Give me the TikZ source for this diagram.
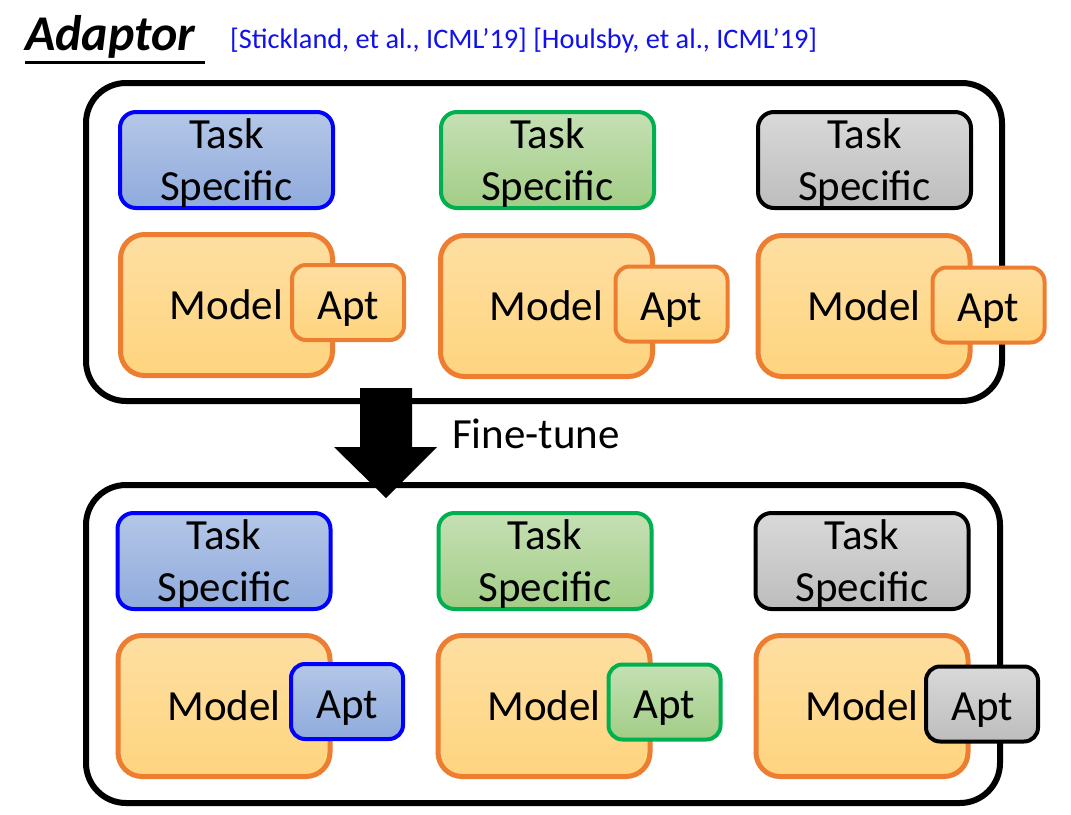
\documentclass[tikz,border=0pt]{standalone}
\usepackage{fontspec}
\setmainfont{Carlito}
\usetikzlibrary{positioning,calc}
\tikzset{font=\fontsize{43}{52}\selectfont}

\definecolor{citeblue}{HTML}{1010F0}
\definecolor{bluetop}{HTML}{B4C7E7}
\definecolor{bluebot}{HTML}{8FAADC}
\definecolor{blueline}{HTML}{0000FF}
\definecolor{greentop}{HTML}{C5E0B4}
\definecolor{greenbot}{HTML}{A2CD86}
\definecolor{greenline}{HTML}{00B050}
\definecolor{graytop}{HTML}{D9D9D9}
\definecolor{graybot}{HTML}{BDBDBD}
\definecolor{modeltop}{HTML}{FEDFA2}
\definecolor{modelbot}{HTML}{FED47E}
\definecolor{modelline}{HTML}{ED7D31}

\begin{document}
\begin{tikzpicture}[x=1pt,y=-1pt]
	\useasboundingbox (0,0) rectangle (1071,814);
	\tikzstyle{every node}=[align=center, inner sep=0pt]
	\tikzstyle{frame}=[draw=black, line width=6pt, rounded corners=40pt, minimum height=318pt]
	\tikzstyle{task}=[line width=4pt, rounded corners=16pt, minimum width=213pt, minimum height=96pt, text height=80pt, text depth=0pt]
	\tikzstyle{model}=[draw=modelline, line width=5pt, rounded corners=24pt, top color=modeltop, bottom color=modelbot, minimum width=212pt, minimum height=141pt]
	\tikzstyle{apt}=[line width=4pt, rounded corners=14pt, minimum width=112pt, minimum height=75pt, text height=33pt, text depth=0pt]
	\tikzstyle{blue box}=[draw=blueline, top color=bluetop, bottom color=bluebot]
	\tikzstyle{green box}=[draw=greenline, top color=greentop, bottom color=greenbot]
	\tikzstyle{gray box}=[draw=black, top color=graytop, bottom color=graybot]
	\tikzstyle{orange box}=[draw=modelline, top color=modeltop, bottom color=modelbot]

	% heading
	\node[anchor=base west, font=\fontsize{50}{60}\selectfont\bfseries\itshape] (title) at (25,50) {Adaptor};
	\draw[line width=3pt] ([yshift=-12pt]title.base west) -- ++(180,0);
	\node[anchor=base west, text=citeblue, font=\fontsize{28.3}{32}\selectfont] (cite) at (230,48)
		{[Stickland, et al., ICML’19] [Houlsby, et al., ICML’19]};

	% before fine-tuning
	\node[frame, minimum width=916pt] (upper) at (544,242) {};
	\node[task, blue box] (t1) at (226.5,160) {Task\\Specific};
	\node[task, green box] (t2) at (547.5,160) {Task\\Specific};
	\node[task, gray box] (t3) at (864.5,160) {Task\\Specific};
	\node[model] (m1) at (226.5,305) {Model};
	\node[model] (m2) at (546.5,306) {Model};
	\node[model] (m3) at (864,306) {Model};
	\node[apt, orange box] (a1) at (348,302.5) {Apt};
	\node[apt, orange box] (a2) at (671.5,304) {Apt};
	\node[apt, orange box] (a3) at (988.5,305) {Apt};

	% after fine-tuning
	\node[frame, minimum width=914pt] (lower) at (543,644) {};
	\node[task, blue box] (t4) at (224,561) {Task\\Specific};
	\node[task, green box] (t5) at (545,561) {Task\\Specific};
	\node[task, gray box] (t6) at (862,561) {Task\\Specific};
	\node[model] (m4) at (224,706) {Model};
	\node[model] (m5) at (544,706) {Model};
	\node[model] (m6) at (862,706) {Model};
	\node[apt, blue box] (a4) at (347,701.5) {Apt};
	\node[apt, green box] (a5) at (664.5,702) {Apt};
	\node[apt, gray box] (a6) at (982,704) {Apt};

	% big arrow
	\coordinate (ftop) at (386,388);
	\coordinate (ftip) at (386,498);
	\fill ($(ftop)+(-26,0)$) -- ($(ftop)+(26,0)$) -- ($(ftop)+(26,59)$) -- ($(ftop)+(51,59)$)
		-- (ftip) -- ($(ftop)+(-52,59)$) -- ($(ftop)+(-26,59)$) -- cycle;
	\node[anchor=base west] (ft) at (452,448) {Fine-tune};
\end{tikzpicture}
\end{document}
